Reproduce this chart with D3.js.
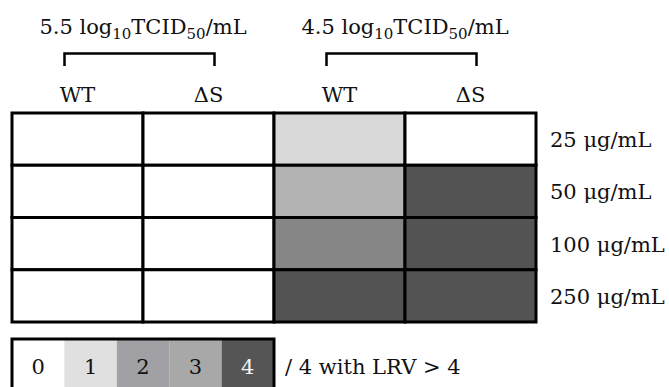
<!DOCTYPE html>
<html><head><meta charset="utf-8">
<script src="https://cdn.jsdelivr.net/npm/d3@7"></script>
<style>html,body{margin:0;padding:0;background:#fff;overflow:hidden}</style>
</head><body><svg id="c" width="669" height="387"></svg>
<script>
const columns = ["WT 5.5", "ΔS 5.5", "WT 4.5", "ΔS 4.5"];
const columnLabels = ["WT", "ΔS", "WT", "ΔS"];
const rows = ["25 μg/mL", "50 μg/mL", "100 μg/mL", "250 μg/mL"];
const groups = [{titleDose: "5.5", cols: ["WT 5.5", "ΔS 5.5"]}, {titleDose: "4.5", cols: ["WT 4.5", "ΔS 4.5"]}];
// number of replicates (of 4) with LRV > 4, per column, per row
const wt55 = [0, 0, 0, 0];
const ds55 = [0, 0, 0, 0];
const wt45 = [1, 2, 3, 4];
const ds45 = [0, 4, 4, 4];
const seriesValues = [wt55, ds55, wt45, ds45];
const legendValues = [0, 1, 2, 3, 4];
const cellColors = ["#ffffff", "#d9d9d9", "#b3b3b3", "#868686", "#535353"];
const legendColors = ["#ffffff", "#e0e0e0", "#a1a1a5", "#a8a8a8", "#555555"];
const legendText = "/ 4 with LRV > 4";

const svg = d3.select("#c");
const font = "DejaVu Serif";
const fs = 21;
const x = d3.scaleBand().domain(columns).range([12, 536]);
const y = d3.scaleBand().domain(rows).range([113, 322]);
const cells = [];
columns.forEach((c, i) => rows.forEach((r, j) => cells.push({c, r, v: seriesValues[i][j]})));

svg.append("g").selectAll("rect").data(cells).join("rect")
  .attr("x", d => x(d.c)).attr("y", d => y(d.r))
  .attr("width", x.bandwidth()).attr("height", y.bandwidth())
  .attr("fill", d => cellColors[d.v]).attr("stroke", "#000").attr("stroke-width", 3);

// row labels
svg.append("g").selectAll("text").data(rows).join("text")
  .attr("x", 550).attr("y", d => y(d) + y.bandwidth() / 2 + 8)
  .attr("font-family", font).attr("font-size", fs).attr("fill", "#111").text(d => d);

// column labels
svg.append("g").selectAll("text").data(columns).join("text")
  .attr("x", d => x(d) + x.bandwidth() / 2).attr("y", 102)
  .attr("text-anchor", "middle").attr("font-family", font).attr("font-size", fs).attr("fill", "#111")
  .text((d, i) => columnLabels[i]);

// group brackets and titles
groups.forEach(g => {
  const x0 = x(g.cols[0]) + x.bandwidth() / 2 - 13;
  const x1 = x(g.cols[1]) + x.bandwidth() / 2 + 6;
  svg.append("path").attr("d", `M${x0},66V53.5H${x1}V66`)
    .attr("fill", "none").attr("stroke", "#000").attr("stroke-width", 2.5);
  const cx = (x(g.cols[0]) + x(g.cols[1]) + x.bandwidth()) / 2;
  const t = svg.append("text").attr("x", cx).attr("y", 34).attr("text-anchor", "middle")
    .attr("font-family", font).attr("font-size", fs).attr("fill", "#111");
  t.append("tspan").text(g.titleDose + " log");
  t.append("tspan").attr("font-size", 15).attr("dy", 5).text("10");
  t.append("tspan").attr("dy", -5).text("TCID");
  t.append("tspan").attr("font-size", 15).attr("dy", 5).text("50");
  t.append("tspan").attr("dy", -5).text("/mL");
});

// legend
const lx = d3.scaleBand().domain(legendValues).range([12, 274]);
const lg = svg.append("g");
lg.selectAll("rect").data(legendValues).join("rect")
  .attr("x", d => lx(d)).attr("y", 339).attr("width", lx.bandwidth()).attr("height", 60)
  .attr("fill", d => legendColors[d]);
lg.append("rect").attr("x", 12).attr("y", 339).attr("width", 262).attr("height", 60)
  .attr("fill", "none").attr("stroke", "#000").attr("stroke-width", 3);
lg.selectAll("text").data(legendValues).join("text")
  .attr("x", d => lx(d) + lx.bandwidth() / 2).attr("y", 374)
  .attr("text-anchor", "middle").attr("font-family", font).attr("font-size", fs)
  .attr("fill", d => d === 4 ? "#f2f2f2" : "#111").text(d => d);
svg.append("text").attr("x", 285).attr("y", 374).attr("font-family", font).attr("font-size", fs)
  .attr("fill", "#111").text(legendText);
</script></body></html>
